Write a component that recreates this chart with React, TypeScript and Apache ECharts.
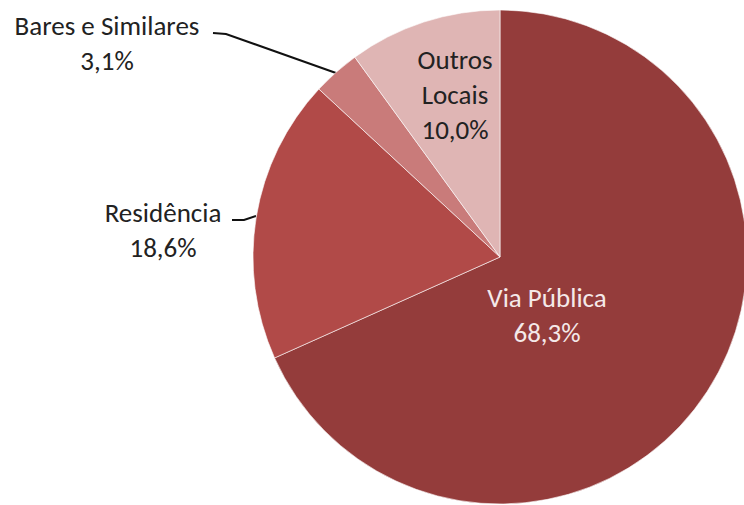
import React, { useEffect, useRef } from "react";
import * as echarts from "echarts";

const categories = ["Via Pública", "Residência", "Bares e Similares", "Outros Locais"];
const labelTexts = ["Via Pública", "Residência", "Bares e Similares", "Outros\nLocais"];
const values = [68.3, 18.6, 3.1, 10.0];
const colors = ["#943C3B", "#B14A48", "#C97B7A", "#DFB5B4"];
const labelColors = ["#F4E9E9", "#222222", "#222222", "#222222"];

// label layout (positions of label text blocks and leader lines)
const labelPos: Record<number, { x: number; y: number; line?: number[][] }> = {
  0: { x: 547, y: 315 },
  1: { x: 163, y: 230, line: [[232, 220], [244, 220], [256, 216]] },
  2: { x: 107, y: 43, line: [[213, 33], [226, 34], [336, 73]] },
  3: { x: 455, y: 94 },
};

export default function App() {
  const ref = useRef<HTMLDivElement>(null);
  useEffect(() => {
    if (!ref.current) return;
    const chart = echarts.init(ref.current, undefined, { renderer: "svg" });
    chart.setOption({
      animation: false,
      backgroundColor: "#ffffff",
      series: [
        {
          type: "pie",
          center: [500, 257],
          radius: 247,
          startAngle: 90,
          clockwise: true,
          avoidLabelOverlap: false,
          itemStyle: { borderColor: "#ffffff", borderWidth: 0.6 },
          label: {
            fontFamily: "Carlito, Calibri, Lato, sans-serif",
            fontSize: 27,
            lineHeight: 35,
            align: "center",
            formatter: (p: any) =>
              labelTexts[p.dataIndex] + "\n" + values[p.dataIndex].toFixed(1).replace(".", ",") + "%",
          },
          labelLine: { show: true, lineStyle: { color: "#111111", width: 2 }, length: 10, length2: 10 },
          labelLayout: (p: any) => {
            const lp = labelPos[p.dataIndex];
            const out: any = { x: lp.x, y: lp.y, align: "center", verticalAlign: "middle" };
            if (lp.line) out.labelLinePoints = lp.line;
            return out;
          },
          data: categories.map((name, i) => ({
            name,
            value: values[i],
            itemStyle: { color: colors[i] },
            label: { color: labelColors[i], position: i === 0 || i === 3 ? "inside" : "outside" },
            labelLine: { show: i === 1 || i === 2 },
          })),
        },
      ],
    });
    return () => chart.dispose();
  }, []);
  return (
    <div
      ref={ref}
      style={{ position: "fixed", left: 0, top: 0, width: 744, height: 505 }}
    />
  );
}
